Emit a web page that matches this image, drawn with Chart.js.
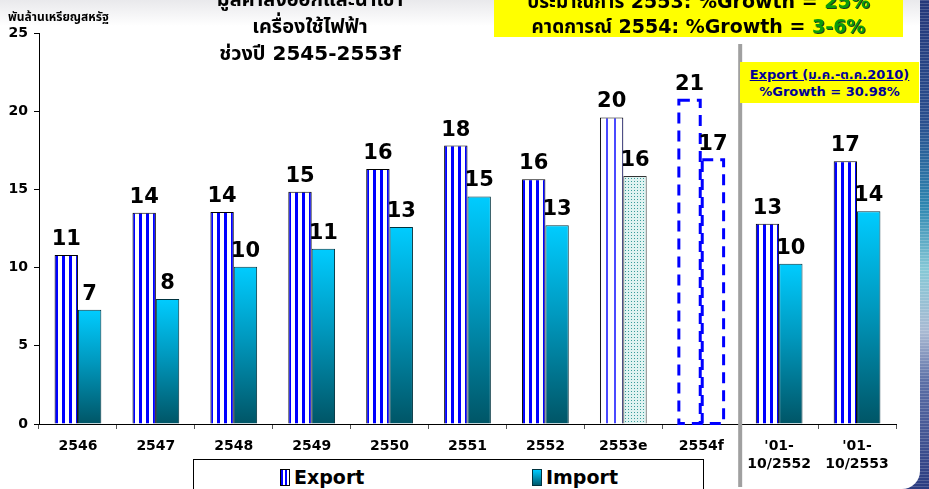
<!DOCTYPE html>
<html>
<head>
<meta charset="utf-8">
<script src="https://cdn.jsdelivr.net/npm/chart.js@4.4.1/dist/chart.umd.min.js"></script>
<style>
    html, body { margin: 0; padding: 0; }
    body {
        width: 929px; height: 489px; overflow: hidden; position: relative;
        font-family: "DejaVu Sans", "Noto Sans Thai", "Noto Sans", sans-serif;
        background: repeating-linear-gradient(to bottom, rgba(255,255,255,0.18) 0 1px, rgba(0,0,0,0) 1px 3px),
            linear-gradient(to bottom, #26387a 0%, #2a4f8e 25%, #2f86b0 42%, #86c8d6 55%, #a9b9d2 68%, #5c6fa6 78%, #2b3b80 100%);
    }
    .slide {
        position: absolute; left: 0; top: 0; width: 920px; height: 489px;
        background: linear-gradient(to bottom, #e9e9ec 0px, #ffffff 26px);
        border-bottom-right-radius: 18px;
    }
    canvas { position: absolute; left: 0; top: 0; }
    .txt { position: absolute; font-weight: bold; white-space: nowrap; z-index: 2; }
    .title { left: 160px; width: 300px; top: -14px; text-align: center; font-size: 20px; line-height: 27px; color: #000; }
    .ytitle { left: 8px; top: 8px; font-size: 12px; color: #000; }
    .box1 { left: 494px; top: 0; width: 409px; height: 37px; background: #ffff00; z-index: 1; }
    .box1 .txt { position: absolute; left: 0; width: 409px; text-align: center; font-size: 19px; }
    .green { color: #0b9a0b; text-shadow: 1px 1px 0 #1d3d1d; }
    .box2 { left: 740px; top: 62px; width: 179px; height: 41px; background: #ffff00; z-index: 1; }
    .box2 .txt { position: absolute; left: 0; width: 179px; text-align: center; font-size: 13px; color: #000099; }
    .legend { position: absolute; left: 193px; top: 459px; width: 509px; height: 40px; background: #fff; border: 1px solid #000; z-index: 2; }
    .legend .item { position: absolute; top: 7px; font-size: 19px; font-weight: bold; line-height: 20px; }
    .sw { display: inline-block; width: 8px; height: 15px; border: 1px solid #000; vertical-align: -2px; margin-right: 4px; }
    .sw.exp { background: repeating-linear-gradient(to right, #0000ff 0 2px, #ffffff 2px 4px); }
    .sw.imp { background: linear-gradient(to bottom, #00ccff, #005a6e); border-color: #00333f; }
</style>
</head>
<body>
<div class="slide"></div>
<canvas id="chart" width="929" height="489"></canvas>

<div class="txt title">มูลค่าส่งออกและนำเข้า<br>เครื่องใช้ไฟฟ้า<br>ช่วงปี 2545-2553f</div>
<div class="txt ytitle">พันล้านเหรียญสหรัฐ</div>

<div class="txt box1">
    <div class="txt" style="top:-12px">ประมาณการ 2553: %Growth = <span class="green">25%</span></div>
    <div class="txt" style="top:13px">คาดการณ์ 2554: %Growth = <span class="green">3-6%</span></div>
</div>
<div class="txt box2">
    <div class="txt" style="top:3px; text-decoration: underline;">Export (ม.ค.-ต.ค.2010)</div>
    <div class="txt" style="top:22px">%Growth = 30.98%</div>
</div>

<div class="legend">
    <div class="item" style="left:86px"><span class="sw exp"></span>Export</div>
    <div class="item" style="left:338px"><span class="sw imp"></span>Import</div>
</div>

<script>
const categories = ['2546', '2547', '2548', '2549', '2550', '2551', '2552', '2553e', '2554f',
    ["'01-", '10/2552'], ["'01-", '10/2553']];
const exportValues = [10.8, 13.5, 13.55, 14.85, 16.3, 17.8, 15.65, 19.6, 20.7, 12.8, 16.8];
const importValues = [7.3, 8.0, 10.05, 11.2, 12.6, 14.55, 12.7, 15.85, 16.9, 10.25, 13.6];
const yTicks = [0, 5, 10, 15, 20, 25];

const ESTIMATE_INDEX = 7;   // 2553e - lighter fills
const FORECAST_INDEX = 8;   // 2554f - dashed outline only
const FONT = '"DejaVu Sans", "Noto Sans", sans-serif';

// small tile canvases for the bar patterns
function makeTile(w, h, draw) {
    const c = document.createElement('canvas');
    c.width = w; c.height = h;
    draw(c.getContext('2d'));
    return c;
}

const stripeTile = makeTile(7, 1, g => {
    g.fillStyle = '#ffffff'; g.fillRect(0, 0, 7, 1);
    g.fillStyle = '#0000ff'; g.fillRect(0, 0, 3, 1);
});
const lightStripeTile = makeTile(8, 1, g => {
    g.fillStyle = '#ffffff'; g.fillRect(0, 0, 8, 1);
    g.fillStyle = '#4a4aff'; g.fillRect(6, 0, 2, 1);
});
const dotTile = makeTile(3, 3, g => {
    g.fillStyle = '#dff3f1'; g.fillRect(0, 0, 3, 3);
    g.fillStyle = '#3a9c9a'; g.fillRect(1, 1, 1, 1);
});

function barLeft(chart, index, which) {
    const x = chart.scales.x;
    const catW = (x.right - x.left) / categories.length;
    const barW = catW * 0.6 / 2;
    const center = x.getPixelForValue(index);
    return which === 0 ? center - barW : center;
}

function exportFill(ctx) {
    const chart = ctx.chart;
    if (!chart.chartArea) return '#0000ff';
    const i = ctx.dataIndex;
    if (i === FORECAST_INDEX) return 'rgba(0,0,0,0)';
    const tile = i === ESTIMATE_INDEX ? lightStripeTile : stripeTile;
    const pat = chart.ctx.createPattern(tile, 'repeat');
    pat.setTransform(new DOMMatrix().translate(Math.round(barLeft(chart, i, 0)), 0));
    return pat;
}

function importFill(ctx) {
    const chart = ctx.chart;
    if (!chart.chartArea) return '#00ccff';
    const i = ctx.dataIndex;
    if (i === FORECAST_INDEX) return 'rgba(0,0,0,0)';
    if (i === ESTIMATE_INDEX) return chart.ctx.createPattern(dotTile, 'repeat');
    const y = chart.scales.y;
    const top = y.getPixelForValue(ctx.raw);
    const bottom = y.getPixelForValue(0);
    const grad = chart.ctx.createLinearGradient(0, top, 0, bottom);
    grad.addColorStop(0, '#00ccff');
    grad.addColorStop(0.45, '#0099bf');
    grad.addColorStop(1, '#005566');
    return grad;
}

// value labels, dashed forecast bars and the gray divider
const decorations = {
    id: 'decorations',
    afterDatasetsDraw(chart) {
        const g = chart.ctx;
        g.save();
        // dashed outlines for the forecast year
        g.strokeStyle = '#0000ff';
        g.lineWidth = 3;
        g.setLineDash([11, 7]);
        chart.data.datasets.forEach((ds, d) => {
            const el = chart.getDatasetMeta(d).data[FORECAST_INDEX];
            const p = el.getProps(['x', 'y', 'base', 'width'], true);
            g.strokeRect(p.x - p.width / 2 + 1, p.y, p.width - 2, p.base - p.y);
        });
        g.setLineDash([]);

        g.fillStyle = '#000';
        g.font = 'bold 21px ' + FONT;
        g.textAlign = 'center';
        g.textBaseline = 'alphabetic';
        chart.data.datasets.forEach((ds, d) => {
            chart.getDatasetMeta(d).data.forEach((el, i) => {
                const p = el.getProps(['x', 'y'], true);
                g.fillText(String(Math.round(ds.data[i])), p.x, p.y - 10);
            });
        });
        g.restore();
    },
    afterDraw(chart) {
        const x = chart.scales.x;
        const sep = (x.getPixelForValue(FORECAST_INDEX) + x.getPixelForValue(FORECAST_INDEX + 1)) / 2;
        const g = chart.ctx;
        g.save();
        g.strokeStyle = '#a0a0a0';
        g.lineWidth = 4;
        g.beginPath();
        g.moveTo(sep, 44);
        g.lineTo(sep, 487);
        g.stroke();
        g.restore();
    }
};

new Chart(document.getElementById('chart'), {
    type: 'bar',
    data: {
        labels: categories,
        datasets: [{
            label: 'Export',
            data: exportValues,
            backgroundColor: exportFill,
            borderColor: '#000',
            borderWidth: ctx => ctx.dataIndex === FORECAST_INDEX ? 0 : 1,
            categoryPercentage: 0.6,
            barPercentage: 1.0
        }, {
            label: 'Import',
            data: importValues,
            backgroundColor: importFill,
            borderColor: ctx => ctx.dataIndex === ESTIMATE_INDEX ? '#333' : '#00333f',
            borderWidth: ctx => ctx.dataIndex === FORECAST_INDEX ? 0 : 1,
            categoryPercentage: 0.6,
            barPercentage: 1.0
        }]
    },
    options: {
        responsive: false,
        animation: false,
        layout: { padding: { top: 33, right: 33, bottom: 0, left: 0 } },
        plugins: {
            legend: { display: false },
            tooltip: { enabled: false }
        },
        scales: {
            x: {
                grid: { display: true, drawOnChartArea: false, offset: true, tickLength: 5, color: '#555' },
                border: { color: '#000', width: 1 },
                ticks: {
                    color: '#000',
                    font: { family: FONT, weight: 'bold', size: 14, lineHeight: 1.3 },
                    padding: 8,
                    maxRotation: 0,
                    autoSkip: false
                },
                afterFit(scale) { scale.height = 65; }
            },
            y: {
                min: 0,
                max: 25,
                afterBuildTicks(scale) { scale.ticks = yTicks.map(v => ({ value: v })); },
                grid: { display: true, drawOnChartArea: false, tickLength: 5, color: '#000' },
                border: { color: '#000', width: 1 },
                ticks: {
                    color: '#000',
                    font: { family: FONT, weight: 'bold', size: 14 },
                    padding: 6
                },
                afterFit(scale) { scale.width = 39; }
            }
        }
    },
    plugins: [decorations]
});
</script>
</body>
</html>
